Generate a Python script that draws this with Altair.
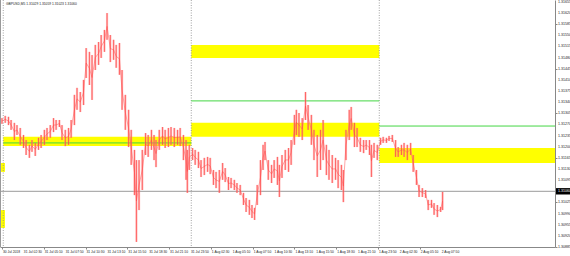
import altair as alt
import pandas as pd

# ---- data (time in minutes from 31 Jul 2018 00:00, prices GBPUSD) ----
bar_minute = [-10,15,40,60,85,105,130,155,175,200,
              220,245,270,290,315,335,360,385,405,430,
              450,475,500,520,545,565,590,615,635,660,
              680,705,730,750,775,795,820,845,865,890,
              910,935,960,980,1005,1020,1040,1065,1090,1110,
              1135,1155,1170,1195,1220,1240,1265,1285,1310,1335,
              1355,1380,1400,1410,1425,1450,1470,1495,1515,1540,
              1565,1585,1610,1630,1655,1680,1700,1725,1745,1770,
              1790,1815,1840,1860,1885,1905,1925,1945,1970,1990,
              2005,2030,2055,2075,2100,2115,2135,2160,2185,2205,
              2230,2245,2265,2290,2315,2335,2360,2380,2405,2430,
              2450,2475,2495,2520,2545,2565,2590,2605,2625,2650,
              2665,2690,2710,2735,2760,2780,2805,2820,2840,2865,
              2890,2910,2935,2955,2980,3005,3025,3050,3070,3095,
              3120,3140,3165,3185,3210,3235,3255,3280,3300,3325,
              3350,3365]

bar_high = [1.31290,1.31297,1.31294,1.31284,1.31275,1.31268,1.31259,1.31237,1.31221,1.31206,
            1.31221,1.31212,1.31228,1.31237,1.31253,1.31259,1.31268,1.31290,1.31284,1.31284,
            1.31268,1.31253,1.31259,1.31284,1.31363,1.31385,1.31372,1.31410,1.31510,1.31498,
            1.31488,1.31520,1.31529,1.31551,1.31567,1.31620,1.31551,1.31536,1.31520,1.31526,
            1.31441,1.31363,1.31316,1.31253,1.31190,1.31158,1.31158,1.31190,1.31243,1.31237,
            1.31253,1.31237,1.31221,1.31253,1.31262,1.31253,1.31259,1.31262,1.31259,1.31253,
            1.31259,1.31237,1.31221,1.31190,1.31206,1.31196,1.31190,1.31184,1.31158,1.31165,
            1.31168,1.31165,1.31127,1.31121,1.31127,1.31149,1.31133,1.31105,1.31102,1.31096,
            1.31086,1.31080,1.31055,1.31039,1.31033,1.31017,1.31008,1.31080,1.31158,1.31206,
            1.31215,1.31158,1.31143,1.31158,1.31168,1.31143,1.31174,1.31190,1.31196,1.31221,
            1.31300,1.31316,1.31306,1.31290,1.31372,1.31331,1.31300,1.31253,1.31237,1.31253,
            1.31284,1.31206,1.31190,1.31174,1.31165,1.31158,1.31143,1.31127,1.31253,1.31316,
            1.31325,1.31275,1.31259,1.31228,1.31221,1.31221,1.31221,1.31206,1.31212,1.31206,
            1.31228,1.31231,1.31228,1.31234,1.31237,1.31221,1.31199,1.31206,1.31212,1.31206,
            1.31212,1.31174,1.31127,1.31080,1.31070,1.31064,1.31033,1.31033,1.31023,1.31017,
            1.31011,1.31058]

bar_low = [1.31272,1.31275,1.31268,1.31253,1.31221,1.31237,1.31206,1.31196,1.31174,1.31165,
           1.31184,1.31171,1.31190,1.31196,1.31206,1.31221,1.31228,1.31246,1.31253,1.31262,
           1.31221,1.31202,1.31206,1.31228,1.31268,1.31316,1.31309,1.31331,1.31416,1.31394,
           1.31347,1.31441,1.31457,1.31479,1.31498,1.31536,1.31466,1.31473,1.31448,1.31426,
           1.31316,1.31253,1.31199,1.31143,1.31048,1.30901,1.31001,1.31064,1.31174,1.31168,
           1.31190,1.31158,1.31136,1.31190,1.31206,1.31196,1.31199,1.31206,1.31199,1.31206,
           1.31202,1.31158,1.31096,1.31055,1.31127,1.31158,1.31143,1.31133,1.31105,1.31111,
           1.31121,1.31114,1.31080,1.31070,1.31055,1.31096,1.31089,1.31064,1.31070,1.31064,
           1.31055,1.31048,1.31017,1.30995,1.30986,1.30976,1.30970,1.31017,1.31048,1.31127,
           1.31158,1.31096,1.31086,1.31102,1.31080,1.31042,1.31102,1.31127,1.31121,1.31143,
           1.31206,1.31237,1.31231,1.31221,1.31284,1.31253,1.31206,1.31158,1.31105,1.31127,
           1.31158,1.31111,1.31096,1.31086,1.31096,1.31070,1.31064,1.31026,1.31158,1.31221,
           1.31253,1.31199,1.31199,1.31184,1.31180,1.31190,1.31174,1.31105,1.31165,1.31158,
           1.31206,1.31212,1.31212,1.31218,1.31215,1.31168,1.31168,1.31174,1.31168,1.31158,
           1.31174,1.31121,1.31080,1.31042,1.31042,1.31039,1.31001,1.31008,1.30986,1.30979,
           1.30995,1.31001]

zone_start = [0, 1440, 1440, 2880, -25, -25]
zone_end = [1440, 2880, 2880, 4226, 13, 13]
zone_top = [1.31231, 1.31520, 1.31275, 1.31196, 1.31149, 1.31001]
zone_bottom = [1.31202, 1.31479, 1.31231, 1.31149, 1.31121, 1.30945]

level_start = [0, 1440, 2880]
level_end = [1440, 2880, 4226]
level_price = [1.31212, 1.31344, 1.31265]

separators = [0, 1440, 2880]
current_price = 1.31060
header = "GBPUSD,M5  1.31029 1.31059 1.31023 1.31060"

price_ticks = [1.31655, 1.31620, 1.31585, 1.31550, 1.31515, 1.31480, 1.31445, 1.31410,
               1.31375, 1.31340, 1.31305, 1.31270, 1.31235, 1.31200, 1.31165, 1.31130,
               1.31095, 1.31060, 1.31025, 1.30990, 1.30955, 1.30920, 1.30885]
time_ticks = [-10, 150, 310, 470, 630, 790, 950, 1110, 1270, 1430, 1590,
              1750, 1910, 2070, 2230, 2390, 2550, 2710, 2870, 3030, 3190, 3350]
time_labels = ["30 Jul 2018", "31 Jul 02:30", "31 Jul 05:10", "31 Jul 07:50", "31 Jul 10:30",
               "31 Jul 13:10", "31 Jul 15:50", "31 Jul 18:30", "31 Jul 21:10", "31 Jul 23:50",
               "1 Aug 02:30", "1 Aug 05:10", "1 Aug 07:50", "1 Aug 10:30", "1 Aug 13:10",
               "1 Aug 15:50", "1 Aug 18:30", "1 Aug 21:10", "1 Aug 23:50", "2 Aug 02:30",
               "2 Aug 05:10", "2 Aug 07:50"]

FONT = "Liberation Sans"

bars = pd.DataFrame({"t": bar_minute, "hi": bar_high, "lo": bar_low})
zones = pd.DataFrame({"t0": zone_start, "t1": zone_end, "p0": zone_top, "p1": zone_bottom})
levels = pd.DataFrame({"t0": level_start, "t1": level_end, "p": level_price})
seps = pd.DataFrame({"t": separators})
cur = pd.DataFrame({"p": [current_price], "lbl": [f"{current_price:.5f}"]})
head = pd.DataFrame({"txt": [header]})
xticks = pd.DataFrame({"t": time_ticks, "lbl": time_labels})
yticks = pd.DataFrame({"p": price_ticks, "lbl": [f"{v:.5f}" for v in price_ticks]})

xs = alt.Scale(domain=[-25, 4226], nice=False, zero=False)
ys = alt.Scale(domain=[1.30885, 1.31661], nice=False, zero=False)

x_axis = alt.Axis(values=time_ticks, labels=False, title=None, grid=False,
                  tickSize=2, tickColor="#888", domainColor="#888")
y_axis = alt.Axis(orient="right", values=price_ticks, labels=False, title=None, grid=False,
                  tickSize=2, tickColor="#888", domainColor="#888")

zone_layer = alt.Chart(zones).mark_rect(color="#ffff00").encode(
    x=alt.X("t0:Q", scale=xs, axis=x_axis), x2="t1:Q",
    y=alt.Y("p0:Q", scale=ys, axis=y_axis), y2="p1:Q")

sep_layer = alt.Chart(seps).mark_rule(color="#8a8a8a", strokeDash=[1, 1.5], strokeWidth=0.8).encode(
    x=alt.X("t:Q", scale=xs))

cur_line = alt.Chart(cur).mark_rule(color="#9a9a9a", strokeWidth=1).encode(
    y=alt.Y("p:Q", scale=ys))

level_layer = alt.Chart(levels).mark_rule(color="#44d644", strokeWidth=1).encode(
    x=alt.X("t0:Q", scale=xs), x2="t1:Q",
    y=alt.Y("p:Q", scale=ys))

candle_soft = alt.Chart(bars).mark_rule(color="#ff8a8a", strokeWidth=2.2, opacity=0.55).encode(
    x=alt.X("t:Q", scale=xs),
    y=alt.Y("hi:Q", scale=ys), y2="lo:Q")

candle_line = alt.Chart(bars).transform_calculate(
    mid="(datum.hi + datum.lo) / 2").mark_line(color="#ff6a6a", strokeWidth=0.8, opacity=0.75).encode(
    x=alt.X("t:Q", scale=xs),
    y=alt.Y("mid:Q", scale=ys))

candle_hard = alt.Chart(bars).mark_rule(color="#ff3a3a", strokeWidth=0.8, opacity=0.85).encode(
    x=alt.X("t:Q", scale=xs),
    y=alt.Y("hi:Q", scale=ys), y2="lo:Q")

left_border = alt.Chart(cur).mark_rule(color="#9a9a9a", strokeWidth=1).encode(
    x=alt.value(0.5), y=alt.value(0), y2=alt.value(247))

head_layer = alt.Chart(head).mark_text(align="left", baseline="middle", fontSize=3.3,
                                       font=FONT, color="#222").encode(
    x=alt.value(6), y=alt.value(4), text="txt:N")

xlabel_layer = alt.Chart(xticks).mark_text(align="left", baseline="top", fontSize=3.3,
                                           font=FONT, color="#222", dx=1).encode(
    x=alt.X("t:Q", scale=xs), y=alt.value(249.5), text="lbl:N")

ylabel_layer = alt.Chart(yticks).mark_text(align="left", baseline="middle", fontSize=3.6,
                                           font=FONT, color="#222").encode(
    x=alt.value(558), y=alt.Y("p:Q", scale=ys), text="lbl:N")

cur_box = alt.Chart(cur).mark_rect(color="#000000", yOffset=-3.2, y2Offset=3.2).encode(
    x=alt.value(556), x2=alt.value(570),
    y=alt.Y("p:Q", scale=ys), y2="p:Q")

cur_text = alt.Chart(cur).mark_text(align="left", baseline="middle", fontSize=3.6,
                                    font=FONT, color="#ffffff").encode(
    x=alt.value(558), y=alt.Y("p:Q", scale=ys), text="lbl:N")

chart = alt.layer(
    zone_layer, sep_layer, cur_line, level_layer, candle_soft, candle_line, candle_hard,
    left_border, head_layer, xlabel_layer, ylabel_layer, cur_box, cur_text
).properties(
    width=555, height=247,
    autosize=alt.AutoSizeParams(type="none"),
    padding={"left": 0, "top": 0, "right": 15, "bottom": 9},
    background="#ffffff"
).configure_view(stroke=None)

chart.save("out.html", embed_options={"renderer": "svg", "actions": False})
